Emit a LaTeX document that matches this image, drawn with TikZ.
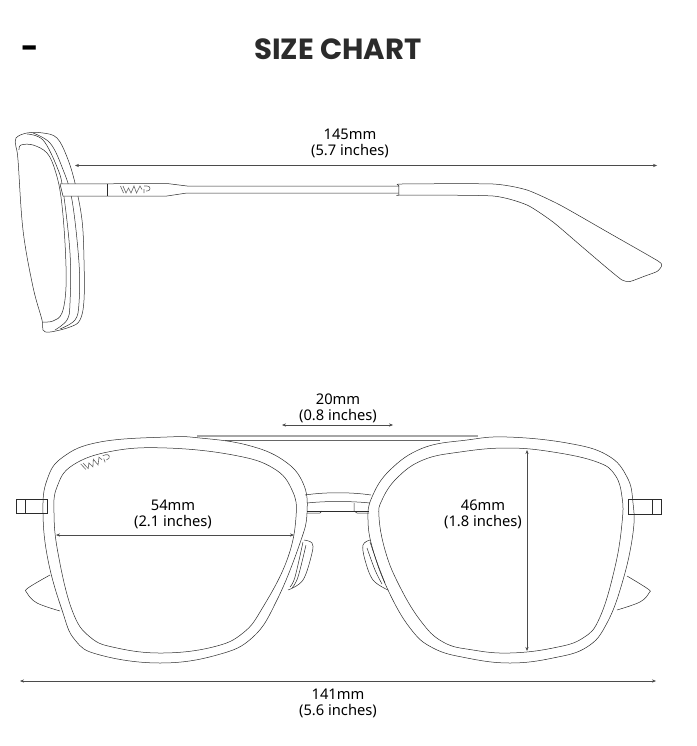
\documentclass[tikz,border=0pt]{standalone}
\usepackage{xcolor}
\usepackage{fontspec}
\usepackage{tikz}
\usetikzlibrary{arrows.meta}
\setmainfont{Noto Sans}
\newfontfamily\titlefont{Poppins}[BoldFont={Poppins Bold}]
\definecolor{inkgray}{HTML}{2B2B2B}
\tikzset{
  outline/.style={line width=0.5pt, draw=inkgray},
  measure/.style={{Stealth[length=4pt,width=3.2pt]}-{Stealth[length=4pt,width=3.2pt]}, line width=0.55pt, draw=inkgray!85},
  sizelabel/.style={align=center, font=\fontsize{14.7}{16}\selectfont, text=black, inner sep=0pt},
  pics/wmplogo/.style={code={
    \draw [line width=0.6pt, draw=black!60] (0,0) -- (3,7) -- (5.5,2) -- (8,7) -- (11,0) -- (13.5,7) -- (17,0) -- (19,3.5);
    \draw [line width=0.6pt, draw=black!60] (-2.5,0) -- (0.5,7);
    \draw [line width=0.6pt, draw=black!60] (21,7) -- (21,3) (21,0) -- (24,0) .. controls (28,0) and (28,5) .. (24,5) -- (23,5);
  }}
}
\begin{document}
\begin{tikzpicture}[x=1pt,y=-1pt]
\useasboundingbox (0,0) rectangle (696,746);

\node [font=\titlefont\bfseries\fontsize{29.2}{30}\selectfont, text=inkgray, inner sep=0pt] (title) at (338,49) {SIZE CHART};
\node [font=\titlefont\bfseries\fontsize{30}{30}\selectfont, text=black, inner sep=0pt] (dash) at (30,52) {-};

% side view
\draw [outline] plot[smooth cycle, tension=0.6] coordinates {(16,138) (27,133) (43,133) (57,138) (67,157) (75,183) (82,220) (84,260) (84,300) (80,320) (70,327) (50,332) (43,330) (42,320) (33,287) (23,230) (18,160) (16,147)};
\draw [outline] plot[smooth, tension=0.6] coordinates {(19,150) (21,145) (33,145) (47,153) (55,170) (61,197) (65,243) (66,287) (62,313) (53,321) (43,322)};
\draw [outline] plot[smooth, tension=0.6] coordinates {(27,134) (43,140) (57,167) (63,190) (70,253) (70,303) (67,320) (55,330)};
\draw [outline] plot[smooth, tension=0.6] coordinates {(33,133) (50,143) (62,167) (72,200) (79,263) (79,303) (75,320) (60,329)};

\draw [outline, fill=white] (60,184) -- (167,183.5) -- (187,186) -- (399,186) -- (399,193) -- (187,193) -- (167,196) -- (63,196) -- cycle;
\draw [outline] (107,183.5) -- (107,196);
\pic at (123,186) {wmplogo};
\draw [outline, fill=white] plot[smooth cycle, tension=0.35] coordinates {(399,195) (399,186) (402,184) (493,184) (527,190) (560,205) (610,233.5) (658,261) (661.5,266) (657,271.5) (645,276) (630,281.5) (622,280) (607,268) (580,245) (553,222) (527,205) (493,196) (402,195)};

\coordinate (templel) at (75,165.5);
\coordinate (templer) at (657,165.5);
\draw [measure] (templel) -- (templer);
\node [sizelabel] (templesize) at (350,143.5) {145mm\\(5.7 inches)};

% front view
\draw [outline] (16,499) rectangle (47,513);
\draw [outline] (25,499) -- (25,513);
\draw [outline] (628,499) rectangle (661,514);
\draw [outline] (652,499) -- (652,514);

\draw [outline] plot[smooth, tension=0.6] coordinates {(50,575) (28,588) (27,593) (37,603) (60,611)};
\draw [outline] plot[smooth, tension=0.6] coordinates {(627,576) (648,589) (649,593) (640,602) (617,610)};

\draw [line width=1.1pt, draw=black!35] (197,436) -- (478,436);
\draw [outline, draw=black!60] (225,440.6) -- (440,440.6);

\draw [outline] plot[smooth cycle, tension=0.7] coordinates {(167,437) (100,442) (63,457) (47,480) (43,513) (48,560) (62,610) (75,640) (100,655) (160,663) (217,655) (253,637) (277,600) (300,543) (307,513) (303,483) (283,460) (247,445) (200,438)};
\draw [outline] plot[smooth cycle, tension=0.7] coordinates {(167,448) (113,451) (73,465) (57,487) (54,513) (58,553) (72,610) (90,637) (117,648) (163,653) (213,647) (243,633) (263,607) (287,560) (296,517) (292,490) (273,468) (233,455)};
\draw [outline] plot[smooth cycle, tension=0.7] coordinates {(507,437) (467,440) (423,448) (390,470) (372,497) (368,520) (373,550) (388,590) (410,628) (433,648) (467,658) (510,663) (553,658) (587,647) (607,623) (623,580) (633,533) (633,503) (627,477) (607,455) (567,443)};
\draw [outline] plot[smooth cycle, tension=0.7] coordinates {(507,448) (460,452) (423,460) (397,478) (382,500) (379,517) (385,550) (398,583) (420,620) (443,642) (473,650) (510,653) (553,648) (583,638) (600,617) (615,567) (622,523) (622,497) (615,475) (597,462) (553,452)};

\draw [outline] (305,495) .. controls (325,492) and (351,492) .. (371,495);
\draw [outline] (307,503) .. controls (325,501) and (351,501) .. (370,503);
\draw [outline] (307,511) -- (369,511);
\draw [outline] (307,513) -- (320,513) -- (322,511);
\draw [outline] (354,503) -- (354,511) -- (357,513) -- (369,513);

\draw [outline] plot[smooth, tension=0.6] coordinates {(304,540) (312,543) (312,553) (303,580) (288,590)};
\draw [outline] plot[smooth, tension=0.6] coordinates {(303,542) (295,577) (290,587)};
\draw [outline] plot[smooth, tension=0.6] coordinates {(306,545) (298,577) (292,588)};
\draw [outline] plot[smooth, tension=0.6] coordinates {(370,540) (363,545) (365,560) (373,580) (388,590)};
\draw [outline] plot[smooth, tension=0.6] coordinates {(370,542) (378,565) (385,583)};
\draw [outline] plot[smooth, tension=0.6] coordinates {(367,548) (375,570) (382,584)};

\pic [rotate=20] at (83,463) {wmplogo};

\coordinate (bridgel) at (282,425);
\coordinate (bridger) at (393,425);
\draw [measure] (bridgel) -- (bridger);
\node [sizelabel] (bridgesize) at (338,408.5) {20mm\\(0.8 inches)};

\coordinate (lensl) at (56,535);
\coordinate (lensr) at (294,535);
\draw [measure] (lensl) -- (lensr);
\node [sizelabel] (lenssize) at (173,514.5) {54mm\\(2.1 inches)};

\coordinate (lenst) at (527,450);
\coordinate (lensb) at (527,651);
\draw [measure] (lenst) -- (lensb);
\node [sizelabel] (heightsize) at (483,514.5) {46mm\\(1.8 inches)};

\coordinate (framel) at (20,681);
\coordinate (framer) at (656,681);
\draw [measure] (framel) -- (framer);
\node [sizelabel] (framesize) at (338,703.5) {141mm\\(5.6 inches)};

\end{tikzpicture}
\end{document}
